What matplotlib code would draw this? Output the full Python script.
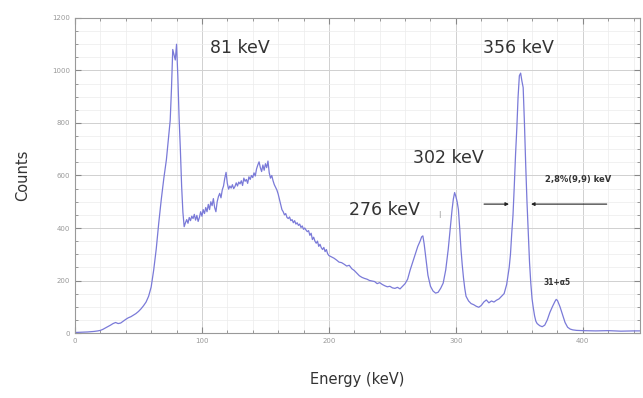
import matplotlib
matplotlib.use('Agg')
import matplotlib.pyplot as plt
from matplotlib.ticker import MultipleLocator

# Spectrum (energy in keV, counts)
energy = [0, 5, 10, 15, 18, 20, 22, 25, 28, 30, 32, 34, 36, 38, 40, 42, 44, 46, 48, 50,
          52, 54, 56, 58, 60, 62, 64, 66, 68, 70, 72, 74, 75, 76, 77, 78, 79, 80, 81, 82,
          83, 84, 85, 86, 87, 88, 89, 90, 91, 92, 93, 94, 95, 96, 97, 98, 99, 100, 101, 102,
          103, 104, 105, 106, 107, 108, 109, 110, 111, 112, 113, 114, 115, 116, 117, 118, 119, 120, 121, 122,
          123, 124, 125, 126, 127, 128, 129, 130, 131, 132, 133, 134, 135, 136, 137, 138, 139, 140, 141, 142,
          143, 144, 145, 146, 147, 148, 149, 150, 151, 152, 153, 154, 155, 156, 157, 158, 159, 160, 161, 162,
          163, 164, 165, 166, 167, 168, 169, 170, 171, 172, 173, 174, 175, 176, 177, 178, 179, 180, 181, 182,
          183, 184, 185, 186, 187, 188, 189, 190, 191, 192, 193, 194, 195, 196, 197, 198, 199, 200, 202, 204,
          206, 208, 210, 212, 214, 216, 218, 220, 222, 224, 226, 228, 230, 232, 234, 236, 238, 240, 242, 244,
          246, 248, 250, 252, 254, 256, 258, 260, 262, 264, 266, 268, 270, 272, 273, 274, 275, 276, 277, 278,
          280, 282, 284, 286, 288, 290, 292, 294, 296, 297, 298, 299, 300, 301, 302, 303, 304, 305, 306, 307,
          308, 310, 312, 314, 316, 318, 320, 322, 324, 326, 328, 330, 332, 334, 336, 338, 340, 342, 343, 344,
          345, 346, 347, 348, 349, 350, 351, 352, 353, 354, 355, 356, 357, 358, 359, 360, 361, 362, 363, 364,
          366, 368, 370, 372, 374, 376, 378, 379, 380, 382, 384, 386, 388, 390, 392, 395, 400, 410, 420, 430,
          440, 445]
counts = [2, 3, 4, 6, 8, 10, 14, 22, 30, 36, 40, 36, 38, 45, 52, 58, 62, 68, 74, 82,
          92, 104, 118, 140, 175, 240, 320, 420, 510, 590, 660, 760, 810, 930, 1080, 1060, 1040, 1100, 980, 820,
          700, 560, 460, 405, 420, 432, 418, 440, 428, 445, 436, 452, 430, 448, 425, 440, 462, 445, 470, 455,
          478, 462, 490, 470, 500, 485, 512, 478, 462, 500, 520, 532, 515, 545, 560, 590, 612, 570, 548, 560,
          552, 565, 550, 558, 572, 560, 575, 568, 580, 562, 590, 578, 585, 570, 595, 585, 600, 592, 610, 598,
          625, 640, 652, 630, 615, 640, 620, 645, 630, 655, 610, 590, 600, 580, 565, 555, 545, 530, 510, 490,
          470, 462, 450, 455, 440, 436, 442, 428, 432, 420, 428, 415, 420, 410, 415, 402, 408, 395, 400, 392,
          386, 390, 372, 380, 356, 365, 350, 342, 350, 330, 338, 325, 318, 326, 310, 318, 302, 295, 290, 285,
          278, 270, 268, 262, 255, 258, 245, 238, 228, 218, 212, 208, 205, 200, 198, 196, 188, 192, 185, 180,
          176, 178, 172, 170, 174, 168, 178, 188, 205, 240, 270, 300, 330, 352, 366, 370, 340, 300, 262, 220,
          178, 160, 152, 155, 170, 190, 240, 320, 420, 470, 510, 535, 520, 500, 470, 400, 320, 260, 210, 170,
          140, 122, 112, 108, 102, 98, 105, 118, 126, 115, 122, 118, 125, 130, 140, 150, 185, 250, 300, 380,
          450, 560, 680, 780, 900, 980, 990, 960, 935, 800, 640, 500, 380, 270, 190, 130, 95, 65, 45, 36,
          28, 24, 30, 50, 78, 100, 120, 128, 124, 100, 70, 40, 22, 15, 12, 10, 9, 8, 9, 7,
          8, 8]

x_ticks = [0, 100, 200, 300, 400]
y_ticks = [0, 200, 400, 600, 800, 1000, 1200]

fig = plt.figure(figsize=(6.43, 3.98), dpi=100)
ax = fig.add_axes([0.1166, 0.1633, 0.8787, 0.7915])

ax.plot(energy, counts, color='#7a7ad8', linewidth=0.9)

ax.set_xlim(0, 445)
ax.set_ylim(0, 1200)
ax.set_xticks(x_ticks)
ax.set_yticks(y_ticks)
ax.xaxis.set_minor_locator(MultipleLocator(20))
ax.yaxis.set_minor_locator(MultipleLocator(50))
ax.tick_params(which='both', direction='in', top=True, right=True,
               labelsize=5, labelcolor='#999999', color='#888888')
ax.tick_params(which='major', length=4)
ax.tick_params(which='minor', length=2)
ax.grid(True, which='major', color='#d0d0d0', linewidth=0.7)
ax.grid(True, which='minor', color='#ececec', linewidth=0.5)
ax.set_axisbelow(True)
for s in ax.spines.values():
    s.set_color('#999999')
    s.set_linewidth(0.8)

ax.set_xlabel('Energy (keV)', fontsize=10.5, color='#333333', labelpad=20)
ax.set_ylabel('Counts', fontsize=10.5, color='#333333', labelpad=16)

# peak labels
ax.text(130, 1086, '81 keV', fontsize=12.5, color='#333333', ha='center', va='center')
ax.text(349, 1086, '356 keV', fontsize=12.5, color='#333333', ha='center', va='center')
ax.text(294, 667, '302 keV', fontsize=12.5, color='#333333', ha='center', va='center')
ax.text(244, 469, '276 keV', fontsize=12.5, color='#333333', ha='center', va='center')
ax.text(396, 583, '2,8%(9,9) keV', fontsize=6, color='#333333', ha='center', va='center',
        fontweight='bold')
ax.text(380, 194, '31+α5', fontsize=5.5, color='#333333', ha='center', va='center',
        fontweight='bold')
ax.text(287, 450, '|', fontsize=5, color='#888888', ha='center', va='center')

# FWHM arrows
ax.annotate('', xy=(344, 491), xytext=(320, 491),
            arrowprops=dict(arrowstyle='-|>', color='#222222', lw=0.8, mutation_scale=5))
ax.annotate('', xy=(357, 491), xytext=(421, 491),
            arrowprops=dict(arrowstyle='-|>', color='#222222', lw=0.8, mutation_scale=5))

fig.savefig('out.png', dpi=100)
